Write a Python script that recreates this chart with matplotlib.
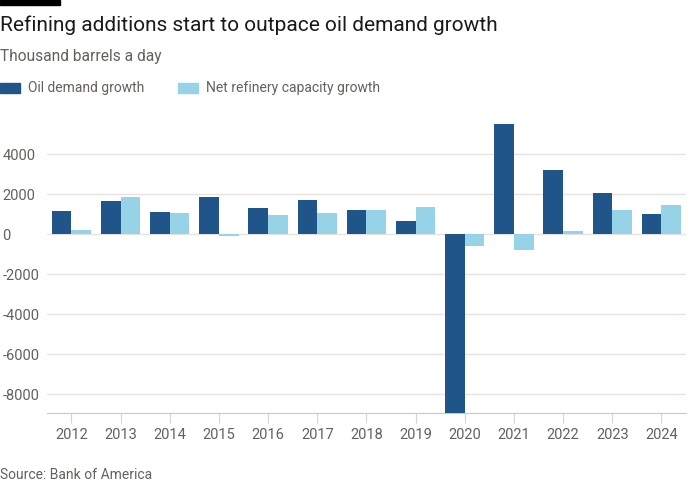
import matplotlib.pyplot as plt
import numpy as np

plt.rcParams['font.family'] = ['Roboto', 'DejaVu Sans']

years = ['2012', '2013', '2014', '2015', '2016', '2017', '2018',
         '2019', '2020', '2021', '2022', '2023', '2024']
demand = [1150, 1650, 1100, 1850, 1300, 1700, 1200, 650, -9000, 5500, 3200, 2050, 1000]
capacity = [200, 1850, 1050, -100, 950, 1050, 1200, 1350, -600, -800, 150, 1200, 1450]
yticks = [-8000, -6000, -4000, -2000, 0, 2000, 4000]

dark = '#1f5588'
light = '#96d3e6'
grey = '#66605c'

fig = plt.figure(figsize=(7, 5), dpi=100)
fig.patch.set_facecolor('white')
ax = fig.add_axes([0.067, 0.174, 0.913, 0.598])

x = np.arange(len(years))
w = 0.4
ax.bar(x - w / 2, demand, w, color=dark, zorder=3)
ax.bar(x + w / 2, capacity, w, color=light, zorder=3)

ax.set_ylim(-8950, 6000)
ax.set_xlim(-0.5, len(years) - 0.5)
ax.set_yticks(yticks)
ax.set_yticklabels([str(v) for v in yticks])
ax.set_xticks(x)
ax.set_xticklabels(years)
ax.grid(axis='y', color='#e6e3e0', linewidth=1, zorder=0)

for s in ['top', 'right', 'left']:
    ax.spines[s].set_visible(False)
ax.spines['bottom'].set_color('#ccc8c4')
ax.tick_params(axis='y', length=0, labelsize=10.5, labelcolor=grey, pad=2)
ax.tick_params(axis='x', length=7, color='#d6d2ce', labelsize=10.5,
               labelcolor=grey, pad=4)
for lbl in ax.get_yticklabels():
    lbl.set_horizontalalignment('left')
    lbl.set_x(-0.067 / 0.913 + 0.008)

# header
fig.patches.append(plt.Rectangle((0, 0.99), 60 / 700, 0.01, transform=fig.transFigure,
                                 color='black', figure=fig))
fig.text(0.0, 0.95, 'Refining additions start to outpace oil demand growth',
         fontsize=15, color='#1a1a1a', va='center')
fig.text(0.0, 0.886, 'Thousand barrels a day', fontsize=11.2, color=grey, va='center')

fig.patches.append(plt.Rectangle((0, 0.814), 20 / 700, 0.02, transform=fig.transFigure,
                                 color=dark, figure=fig))
fig.text(28 / 700, 0.824, 'Oil demand growth', fontsize=10, color=grey, va='center')
fig.patches.append(plt.Rectangle((178 / 700, 0.814), 20 / 700, 0.02,
                                 transform=fig.transFigure, color=light, figure=fig))
fig.text(206 / 700, 0.824, 'Net refinery capacity growth', fontsize=10, color=grey,
         va='center')

fig.text(0.0, 0.05, 'Source: Bank of America', fontsize=10, color=grey, va='center')

fig.savefig('out.png', dpi=100, facecolor='white')
